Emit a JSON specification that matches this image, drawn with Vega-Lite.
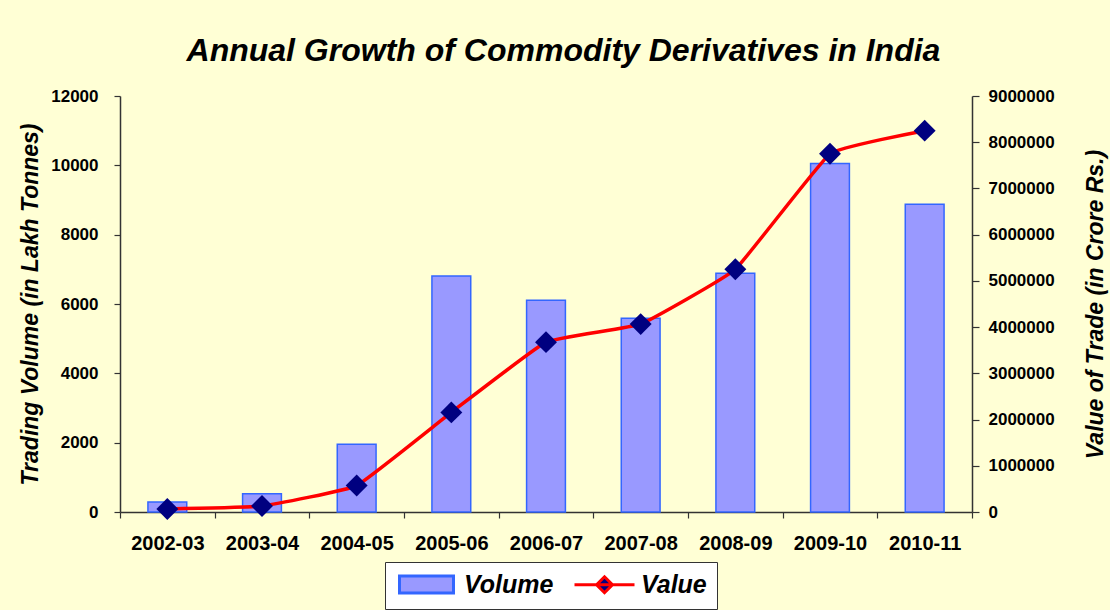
{
  "$schema": "https://vega.github.io/schema/vega-lite/v6.json",
  "width": 852,
  "height": 416,
  "autosize": {"type": "none"},
  "padding": {"left": 120, "top": 96, "right": 138, "bottom": 98},
  "background": "#FFFFD5",
  "title": {
    "text": "Annual Growth of Commodity Derivatives in India",
    "font": "Liberation Sans",
    "fontSize": 32,
    "fontWeight": "bold",
    "fontStyle": "italic",
    "color": "black",
    "anchor": "middle",
    "frame": "bounds",
    "offset": 19
  },
  "data": {
    "values": [
      {"year": "2002-03", "volume": 290, "value": 66530},
      {"year": "2003-04", "volume": 530, "value": 129364},
      {"year": "2004-05", "volume": 1953, "value": 571759},
      {"year": "2005-06", "volume": 6805, "value": 2155121},
      {"year": "2006-07", "volume": 6105, "value": 3675000},
      {"year": "2007-08", "volume": 5590, "value": 4065000},
      {"year": "2008-09", "volume": 6885, "value": 5251000},
      {"year": "2009-10", "volume": 10050, "value": 7749000},
      {"year": "2010-11", "volume": 8875, "value": 8250000}
    ]
  },
  "config": {
    "view": {"fill": "#C0C0C0", "stroke": null},
    "axis": {
      "labelFont": "Liberation Sans",
      "labelFontWeight": "bold",
      "labelColor": "black",
      "titleFont": "Liberation Sans",
      "titleFontWeight": "bold",
      "titleFontStyle": "italic",
      "titleColor": "black",
      "domainColor": "#333333",
      "tickColor": "#333333",
      "domainWidth": 1.5,
      "tickWidth": 1.2,
      "grid": false
    }
  },
  "layer": [
    {
      "mark": {"type": "bar", "fill": "#9999FF", "stroke": "#3366FF", "strokeWidth": 1.5, "width": {"band": 0.41}},
      "encoding": {
        "x": {
          "field": "year",
          "type": "nominal",
          "sort": null,
          "scale": {"paddingInner": 0, "paddingOuter": 0},
          "axis": {"title": null, "labelAngle": 0, "labelFontSize": 20, "tickBand": "extent", "tickSize": 6, "labelPadding": 15}
        },
        "y": {
          "field": "volume",
          "type": "quantitative",
          "scale": {"domain": [0, 12000]},
          "axis": {
            "title": "Trading Volume (in Lakh Tonnes)",
            "titleFontSize": 23,
            "values": [0, 2000, 4000, 6000, 8000, 10000, 12000],
            "format": "d",
            "labelFontSize": 17,
            "tickSize": 6,
            "labelPadding": 16,
            "titlePadding": 8
          }
        }
      }
    },
    {
      "encoding": {
        "x": {"field": "year", "type": "nominal", "sort": null},
        "y": {
          "field": "value",
          "type": "quantitative",
          "scale": {"domain": [0, 9000000]},
          "axis": {
            "orient": "right",
            "title": "Value of Trade (in Crore Rs.)",
            "titleFontSize": 23,
            "titleAngle": 270,
            "values": [0, 1000000, 2000000, 3000000, 4000000, 5000000, 6000000, 7000000, 8000000, 9000000],
            "format": "d",
            "labelFontSize": 17,
            "tickSize": 7,
            "labelPadding": 9,
            "titlePadding": 53
          }
        }
      },
      "layer": [
        {"mark": {"type": "line", "color": "#FF0000", "strokeWidth": 3.5, "interpolate": "cardinal", "tension": 0.7}, "encoding": {}},
        {"mark": {"type": "point", "shape": "diamond", "filled": true, "color": "#000080", "size": 480, "opacity": 1}}
      ]
    },
    {
      "data": {"values": [{"series": "Volume"}, {"series": "Value"}]},
      "transform": [{"filter": "false"}],
      "mark": {"type": "point", "filled": true, "opacity": 1},
      "encoding": {
        "color": {
          "field": "series",
          "type": "nominal",
          "scale": {"domain": ["Volume", "Value"], "range": ["#9999FF", "#000080"]},
          "legend": {
            "title": null,
            "orient": "none",
            "legendX": 265,
            "legendY": 466,
            "direction": "horizontal",
            "fillColor": "white",
            "strokeColor": "#333333",
            "padding": 10,
            "labelFont": "Liberation Sans",
            "labelFontSize": 25,
            "labelFontWeight": "bold",
            "labelFontStyle": "italic",
            "labelColor": "black",
            "symbolSize": 400,
            "symbolStrokeWidth": 3,
            "symbolOpacity": 1,
            "labelOffset": 44,
            "columnPadding": 14
          }
        },
        "stroke": {
          "field": "series",
          "type": "nominal",
          "scale": {"domain": ["Volume", "Value"], "range": ["#3366FF", "#FF0000"]}
        },
        "shape": {
          "field": "series",
          "type": "nominal",
          "scale": {
            "domain": ["Volume", "Value"],
            "range": ["M-0.8,-0.85H4.6V0.85H-0.8Z", "M-1,0H5M1.2,0L2,-0.8L2.8,0L2,0.8Z"]
          }
        }
      }
    }
  ],
  "resolve": {"scale": {"y": "independent"}}
}
